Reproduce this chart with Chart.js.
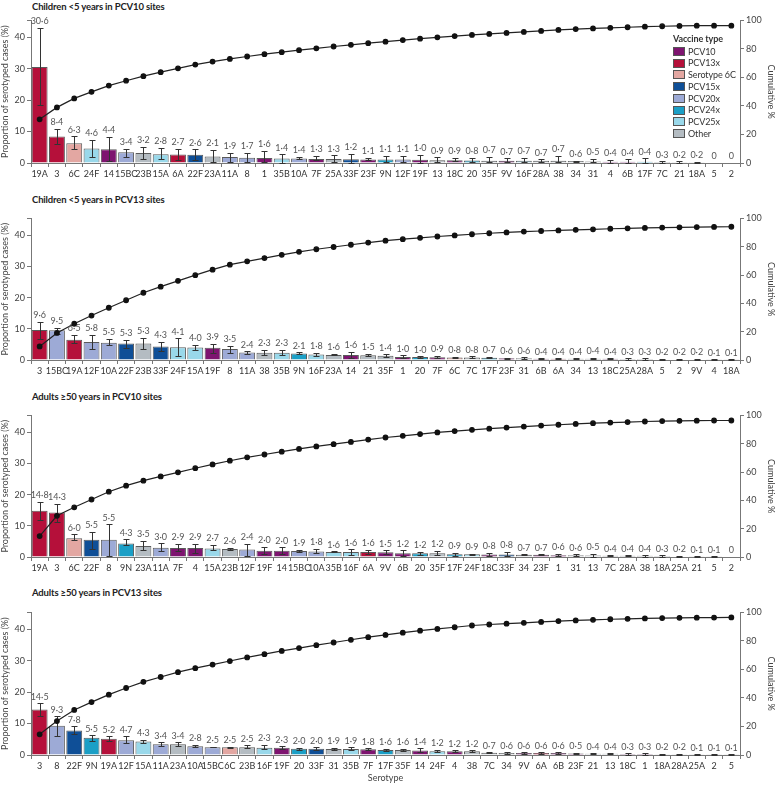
<!DOCTYPE html>
<html>
<head>
<meta charset="utf-8">
<script src="https://cdn.jsdelivr.net/npm/chart.js@4.4.1/dist/chart.umd.min.js"></script>
<style>
  body { margin: 0; background: #fff; width: 776px; height: 785px; position: relative; overflow: hidden; font-family: Lato, "Open Sans", sans-serif; color: #222; }
  canvas { position: absolute; left: 0; }
  .ptitle { position: absolute; left: 32px; font-size: 9.5px; font-weight: 700; color: #222; white-space: nowrap; line-height: 12px; letter-spacing: -0.15px; }
  #legend { position: absolute; left: 673px; top: 33px; font-size: 9px; color: #333; line-height: 11.7px; letter-spacing: -0.1px; }
  #legend .head { font-weight: 700; margin-bottom: 1px; }
  #legend .item { display: flex; align-items: center; }
  #legend .box { width: 10px; height: 7px; border: 1px solid #555; margin-right: 3px; }
</style>
</head>
<body>
<div class="ptitle" style="top:1px">Children &lt;5 years in PCV10 sites</div>
<div class="ptitle" style="top:194px">Children &lt;5 years in PCV13 sites</div>
<div class="ptitle" style="top:391px">Adults ≥50 years in PCV10 sites</div>
<div class="ptitle" style="top:587px">Adults ≥50 years in PCV13 sites</div>
<canvas id="c1" width="776" height="170" style="top:13px"></canvas>
<canvas id="c2" width="776" height="169" style="top:211px"></canvas>
<canvas id="c3" width="776" height="169" style="top:408px"></canvas>
<canvas id="c4" width="776" height="178" style="top:605px"></canvas>
<div id="legend"></div>
<script>
// vaccine groups and colours
const groupNames = ['PCV10', 'PCV13x', 'Serotype 6C', 'PCV15x', 'PCV20x', 'PCV24x', 'PCV25x', 'Other'];
const groupColors = ['#7e1470', '#b5103a', '#e3a7a2', '#0f4f97', '#9daad6', '#1b9fc6', '#99d8ea', '#b4bcc2'];
const groupMembers = [
  ['1', '4', '5', '6B', '7F', '9V', '14', '18C', '19F', '23F'],
  ['3', '6A', '19A'],
  ['6C'],
  ['22F', '33F'],
  ['8', '10A', '11A', '12F', '15BC'],
  ['2', '9N', '17F', '20'],
  ['15A', '16F', '24F', '35B']
];

// Children <5 years in PCV10 sites
const p1Labels = ['19A','3','6C','24F','14','15BC','23B','15A','6A','22F','23A','11A','8','1','35B','10A','7F','25A','33F','23F','9N','12F','19F','13','18C','20','35F','9V','16F','28A','38','34','31','4','6B','17F','7C','21','18A','5','2'];
const p1Values = [30.6,8.4,6.3,4.6,4.4,3.4,3.2,2.8,2.7,2.6,2.1,1.9,1.7,1.6,1.4,1.4,1.3,1.3,1.2,1.1,1.1,1.1,1.0,0.9,0.9,0.8,0.7,0.7,0.7,0.7,0.7,0.6,0.5,0.4,0.4,0.4,0.3,0.2,0.2,0,0];
const p1Lo = [18.4,5.9,4.4,1.8,0.7,2.0,1.3,1.2,1.1,0.9,0.3,0.4,0.3,0.2,0.1,1.2,1.1,0.4,0.1,0.8,0.2,0.2,0.1,0.4,0.5,0.2,0.2,0.2,0.3,0.4,0.2,0.3,0.2,0.1,0.1,0.1,0.1,0,0,0,0];
const p1Hi = [43.1,10.9,8.5,7.4,8.3,4.5,5.2,4.8,4.5,4.3,4.2,3.3,3.3,3.9,2.8,1.9,2.2,2.4,2.9,1.7,2.3,2.2,2.7,1.8,1.6,1.6,1.9,1.5,1.7,1.2,2.2,0.7,1.3,1.1,1.2,1.5,0.6,0.5,0.3,0,0];

// Children <5 years in PCV13 sites
const p2Labels = ['3','15BC','19A','12F','10A','22F','23B','33F','24F','15A','19F','8','11A','38','35B','9N','16F','23A','14','21','35F','1','20','7F','6C','7C','17F','23F','31','6B','6A','34','13','18C','25A','28A','5','2','9V','4','18A'];
const p2Values = [9.6,9.5,6.5,5.8,5.5,5.3,5.3,4.3,4.1,4.0,3.9,3.5,2.4,2.3,2.3,2.1,1.8,1.6,1.6,1.5,1.4,1.0,1.0,0.9,0.8,0.8,0.7,0.6,0.6,0.4,0.4,0.4,0.4,0.4,0.3,0.3,0.2,0.2,0.2,0.1,0.1];
const p2Lo = [6.6,8.2,5.3,3.5,4.7,3.9,3.5,3.0,1.4,3.2,2.4,2.4,1.8,1.6,1.5,1.8,1.4,1.5,0.7,1.3,1.1,0.5,0.7,0.7,0.6,0.5,0.5,0.4,0.4,0.2,0.2,0.2,0.2,0.2,0.1,0.1,0.1,0.1,0.1,0,0];
const p2Hi = [12.3,10.3,8.0,8.1,6.8,6.4,7.1,5.8,6.9,4.9,5.2,4.5,2.8,3.2,3.3,2.5,2.4,1.9,2.6,2.0,1.8,1.5,1.2,1.4,1.0,1.2,1.1,0.8,0.9,0.6,0.6,0.6,0.7,0.6,0.5,0.5,0.4,0.4,0.4,0.2,0.2];

// Adults >=50 years in PCV10 sites
const p3Labels = ['19A','3','6C','22F','8','9N','23A','11A','7F','4','15A','23B','12F','19F','14','15BC','10A','35B','16F','6A','9V','6B','20','35F','17F','24F','18C','33F','34','23F','1','31','13','7C','28A','38','18A','25A','21','5','2'];
const p3Values = [14.8,14.3,6.0,5.5,5.5,4.3,3.5,3.0,2.9,2.9,2.7,2.6,2.4,2.0,2.0,1.9,1.8,1.6,1.6,1.6,1.5,1.2,1.2,1.2,0.9,0.9,0.8,0.8,0.7,0.7,0.6,0.6,0.5,0.4,0.4,0.4,0.3,0.2,0.1,0.1,0];
const p3Lo = [11.9,11.3,5.3,2.5,0.2,3.9,2.1,1.8,1.8,1.3,2.1,2.4,0.3,1.0,1.0,1.5,1.2,1.5,0.8,1.1,1.0,0.4,0.7,0.5,0.4,0.8,0.4,0.4,0.5,0.5,0.3,0.3,0.1,0.2,0.2,0.1,0.1,0.1,0,0,0];
const p3Hi = [17.7,17.1,7.3,8.1,10.5,5.7,5.1,4.4,4.2,4.3,3.9,2.9,4.3,3.2,3.1,2.4,2.6,1.8,2.5,2.4,2.1,2.2,1.7,1.9,1.4,1.0,1.3,1.6,0.9,0.9,1.0,0.9,1.0,0.6,0.6,0.6,0.6,0.3,0.2,0.2,0];

// Adults >=50 years in PCV13 sites
const p4Labels = ['3','8','22F','9N','19A','12F','15A','11A','23A','10A','15BC','6C','23B','16F','19F','20','33F','31','35B','7F','17F','35F','14','24F','4','38','7C','34','9V','6A','6B','23F','21','13','18C','1','18A','28A','25A','2','5'];
const p4Values = [14.5,9.3,7.8,5.5,5.2,4.7,4.3,3.4,3.4,2.8,2.5,2.5,2.5,2.3,2.3,2.0,2.0,1.9,1.9,1.8,1.6,1.6,1.4,1.2,1.2,1.2,0.7,0.6,0.6,0.6,0.6,0.5,0.4,0.4,0.3,0.3,0.2,0.2,0.1,0.1,0.1];
const p4Lo = [12.5,6.1,6.7,4.5,4.4,3.7,3.7,2.8,2.8,2.5,2.4,2.3,2.2,1.8,1.9,1.7,1.6,1.6,1.7,1.5,1.3,1.3,0.8,0.8,0.9,0.9,0.5,0.4,0.4,0.4,0.4,0.3,0.2,0.2,0.1,0.1,0.1,0.1,0,0,0];
const p4Hi = [16.4,12.3,9.2,6.3,6.0,6.0,4.9,4.0,4.1,3.3,2.6,2.7,3.1,3.2,2.8,2.3,2.4,2.3,2.5,2.1,1.9,1.9,2.1,1.7,1.5,1.5,0.9,0.8,0.8,0.8,0.8,0.7,0.6,0.6,0.5,0.5,0.4,0.4,0.2,0.2,0.2];

Chart.defaults.font.family = 'Lato, "Open Sans", sans-serif';
Chart.defaults.font.size = 9;
Chart.defaults.color = '#333';

function colorOf(s) {
  for (let g = 0; g < groupMembers.length; g++) {
    if (groupMembers[g].includes(s)) return groupColors[g];
  }
  return groupColors[7];
}

function fmt(v) {
  return v === 0 ? '0' : v.toFixed(1).replace('.', '\u00b7');
}

// error bars, drawn right after the bars so the line stays on top
const errorBars = {
  id: 'errorBars',
  afterDatasetDraw(chart, args) {
    if (args.index !== 0) return;
    const ds = chart.data.datasets[0];
    const y = chart.scales.y;
    const ctx = chart.ctx;
    ctx.save();
    ctx.strokeStyle = '#333';
    ctx.lineWidth = 1;
    args.meta.data.forEach((bar, i) => {
      if (!(ds.errHi[i] > 0)) return;
      const x = Math.round(bar.x) + 0.5;
      const y1 = Math.round(y.getPixelForValue(ds.errLo[i])) + 0.5;
      const y2 = Math.round(y.getPixelForValue(ds.errHi[i])) + 0.5;
      ctx.beginPath();
      ctx.moveTo(x, y1); ctx.lineTo(x, y2);
      ctx.moveTo(x - 3, y1); ctx.lineTo(x + 3, y1);
      ctx.moveTo(x - 3, y2); ctx.lineTo(x + 3, y2);
      ctx.stroke();
    });
    ctx.restore();
  }
};

const valueLabels = {
  id: 'valueLabels',
  afterDatasetsDraw(chart) {
    const ds = chart.data.datasets[0];
    const meta = chart.getDatasetMeta(0);
    const y = chart.scales.y;
    const ctx = chart.ctx;
    ctx.save();
    ctx.font = '9px Lato, "Open Sans", sans-serif';
    ctx.fillStyle = '#555';
    ctx.textAlign = 'center';
    ctx.textBaseline = 'bottom';
    meta.data.forEach((bar, i) => {
      const top = Math.max(ds.errHi[i], ds.data[i]);
      ctx.fillText(fmt(ds.data[i]), bar.x, y.getPixelForValue(top) - 2);
    });
    ctx.restore();
  }
};

function makePanel(id, labels, values, lo, hi, xTitle) {
  let run = 0;
  const cumulative = values.map(v => { run += v; return Math.round(run * 10) / 10; });
  return new Chart(document.getElementById(id), {
    data: {
      labels: labels,
      datasets: [
        {
          type: 'bar',
          data: values,
          errLo: lo,
          errHi: hi,
          backgroundColor: labels.map(colorOf),
          borderColor: '#5a5a5a',
          borderWidth: 1,
          categoryPercentage: 1,
          barPercentage: 0.92,
          yAxisID: 'y',
          order: 2
        },
        {
          type: 'line',
          data: cumulative,
          yAxisID: 'y2',
          borderColor: '#222',
          borderWidth: 1.2,
          pointRadius: 2.3,
          pointBackgroundColor: '#111',
          pointBorderColor: '#111',
          tension: 0,
          order: 1
        }
      ]
    },
    options: {
      responsive: false,
      animation: false,
      layout: { padding: { top: 6 } },
      plugins: { legend: { display: false }, tooltip: { enabled: false } },
      scales: {
        x: {
          offset: true,
          grid: { offset: true, drawOnChartArea: false, color: '#777', tickLength: 4 },
          border: { color: '#777' },
          ticks: { autoSkip: false, maxRotation: 0, padding: 2, color: '#333' },
          title: { display: !!xTitle, text: xTitle || '', padding: { top: 0, bottom: 0 }, color: '#444' },
          afterFit(s) { s.height = xTitle ? 28 : 20; }
        },
        y: {
          position: 'left',
          min: 0,
          max: 45.4,
          ticks: { stepSize: 10, padding: 2, color: '#444', callback: v => (v % 10 === 0 ? v : '') },
          grid: { drawOnChartArea: false, color: '#777', tickLength: 4 },
          border: { color: '#777' },
          title: { display: true, text: 'Proportion of serotyped cases (%)', color: '#444', padding: 0 },
          afterFit(s) { s.width = 31; }
        },
        y2: {
          position: 'right',
          min: 0,
          max: 100,
          ticks: { stepSize: 20, padding: 2, color: '#444' },
          grid: { drawOnChartArea: false, color: '#777', tickLength: 4 },
          border: { color: '#777' },
          title: { display: true, text: 'Cumulative %', color: '#444', padding: 0 },
          afterFit(s) { s.width = 36; }
        }
      }
    },
    plugins: [errorBars, valueLabels]
  });
}

makePanel('c1', p1Labels, p1Values, p1Lo, p1Hi);
makePanel('c2', p2Labels, p2Values, p2Lo, p2Hi);
makePanel('c3', p3Labels, p3Values, p3Lo, p3Hi);
makePanel('c4', p4Labels, p4Values, p4Lo, p4Hi, 'Serotype');

// legend for the first panel
const legend = document.getElementById('legend');
legend.innerHTML = '<div class="head">Vaccine type</div>' + groupNames.map((n, i) =>
  '<div class="item"><span class="box" style="background:' + groupColors[i] + '"></span>' + n + '</div>'
).join('');
</script>
</body>
</html>
